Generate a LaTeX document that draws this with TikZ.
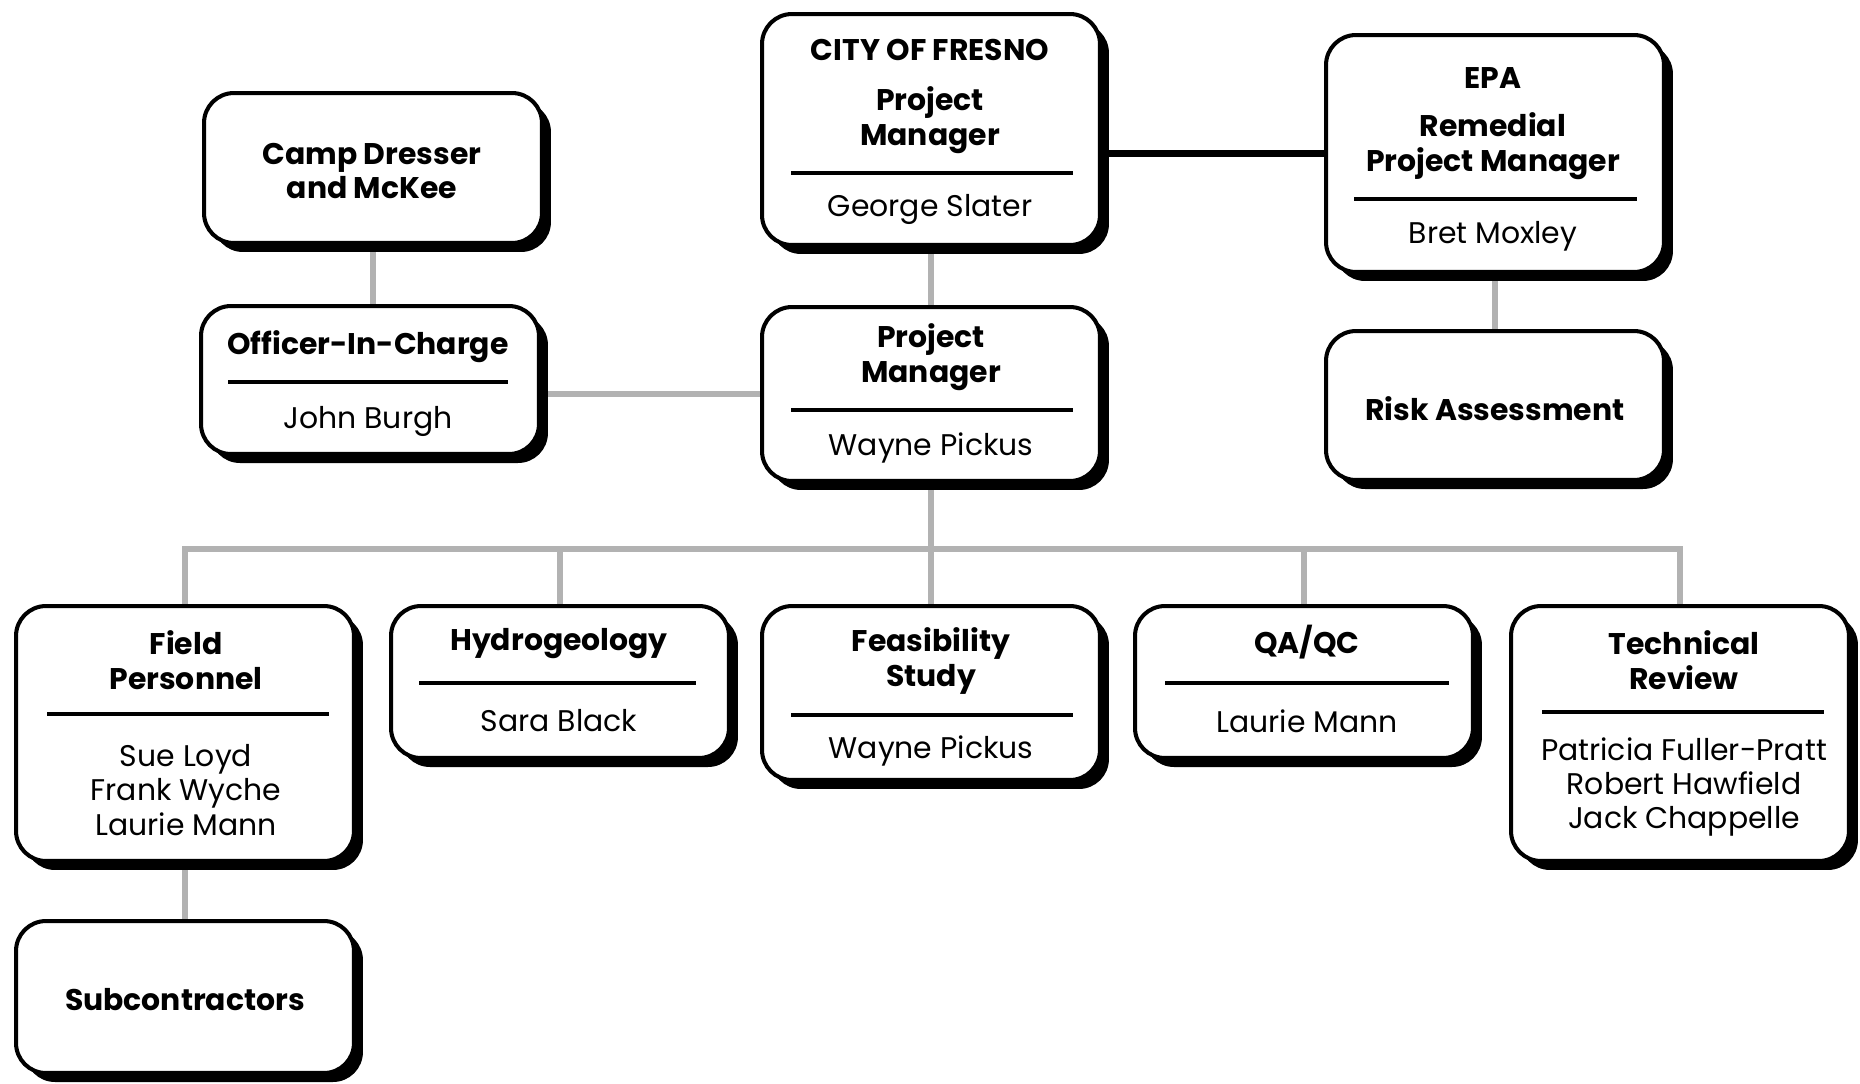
\documentclass[tikz,border=0pt]{standalone}
\usepackage{fontspec}
\setmainfont{Poppins}
\usetikzlibrary{calc}
\usetikzlibrary{positioning}
\usetikzlibrary{shadows}
\usetikzlibrary{backgrounds}

\tikzset{
  box/.style={rectangle, draw=black, line width=2.3pt, fill=white, rounded corners=0.6cm, minimum width=6.76cm, anchor=north west,
    drop shadow={shadow xshift=0.18cm, shadow yshift=-0.18cm, fill=black, opacity=1}},
  boxhead/.style={align=center, inner sep=0pt, font=\fontsize{17}{19.6}\selectfont\bfseries},
  boxname/.style={align=center, inner sep=0pt, font=\fontsize{17}{19.6}\selectfont},
  divider/.style={black, line width=1.8pt},
  link/.style={black!30, line width=3.2pt},
  tie/.style={black, line width=4pt},
}

\begin{document}
\begin{tikzpicture}[x=0.02cm, y=-0.02cm]
\useasboundingbox (0,0) rectangle (1860,1083);

% top part
\node at (202,91) [box, minimum height=3cm] (camp) {};
\node at (372,171) [boxhead] (camphead) {Camp Dresser\\and McKee};

\node at (199,304) [box, minimum height=2.96cm] (officer) {};
\node at (368,347) [boxhead] (officerhead) {Officer-In-Charge};
\draw[divider] (228,382) -- (508,382);
\node at (368,421) [boxname] (officername) {John Burgh};

\node at (760,12) [box, minimum height=4.62cm] (fresno) {};
\node at (930,50) [boxhead] (fresnocity) {CITY OF FRESNO};
\node at (930,120) [boxhead] (fresnohead) {Project\\Manager};
\draw[divider] (791,173) -- (1073,173);
\node at (930,209) [boxname] (fresnoname) {George Slater};

\node at (1324,33) [box, minimum height=4.74cm] (epa) {};
\node at (1493,78) [boxhead] (epaagency) {EPA};
\node at (1493,146) [boxhead] (epahead) {Remedial\\Project Manager};
\draw[divider] (1354,199) -- (1637,199);
\node at (1493,236) [boxname] (epaname) {Bret Moxley};

\node at (760,305) [box, minimum height=3.48cm] (pm) {};
\node at (931,357) [boxhead] (pmhead) {Project\\Manager};
\draw[divider] (791,410) -- (1073,410);
\node at (931,448) [boxname] (pmname) {Wayne Pickus};

\node at (1324,329) [box, minimum height=2.98cm] (risk) {};
\node at (1495,409) [boxhead] (riskhead) {Risk Assessment};

% task row
\node at (14,604) [box, minimum height=5.1cm] (field) {};
\node at (186,660) [boxhead] (fieldhead) {Field\\Personnel};
\draw[divider] (47,714) -- (329,714);
\node at (186,790) [boxname] (fieldname) {Sue Loyd\\Frank Wyche\\Laurie Mann};

\node at (389,604) [box, minimum height=3.04cm] (hydro) {};
\node at (559,644) [boxhead] (hydrohead) {Hydrogeology};
\draw[divider] (419,683) -- (696,683);
\node at (559,721) [boxname] (hydroname) {Sara Black};

\node at (760,604) [box, minimum height=3.48cm] (feas) {};
\node at (931,661) [boxhead] (feashead) {Feasibility\\Study};
\draw[divider] (791,715) -- (1073,715);
\node at (931,751) [boxname] (feasname) {Wayne Pickus};

\node at (1133,604) [box, minimum height=3.04cm] (qaqc) {};
\node at (1307,642) [boxhead] (qaqchead) {QA/QC};
\draw[divider] (1165,683) -- (1449,683);
\node at (1307,721) [boxname] (qaqcname) {Laurie Mann};

\node at (1509,604) [box, minimum height=5.1cm] (tech) {};
\node at (1684,660) [boxhead] (techhead) {Technical\\Review};
\draw[divider] (1542,712) -- (1824,712);
\node at (1684,787) [boxname] (techname) {Patricia Fuller-Pratt\\Robert Hawfield\\Jack Chappelle};

\node at (14,919) [box, minimum height=3.04cm] (sub) {};
\node at (185,1000) [boxhead] (subhead) {Subcontractors};

% connectors
\coordinate (bus) at (931,549);
\begin{scope}[on background layer]
\draw[link] (camp.south) -- (camp.south |- officer.north);
\draw[link] (pm.west -| officer.east) -- (pm.west);
\draw[link] (fresno.south) -- (pm.north);
\draw[link] (epa.south) -- (risk.north);
\draw[link] (pm.south) -- (bus);
\draw[link] (field.north) |- (bus);
\draw[link] (hydro.north) |- (bus);
\draw[link] (feas.north) -- (bus);
\draw[link] (qaqc.north) |- (bus);
\draw[link] (tech.north) |- (bus);
\draw[link] (field.south) -- (sub.north);
\end{scope}
\draw[tie] (epa.west -| fresno.east) -- (epa.west);

\end{tikzpicture}
\end{document}
